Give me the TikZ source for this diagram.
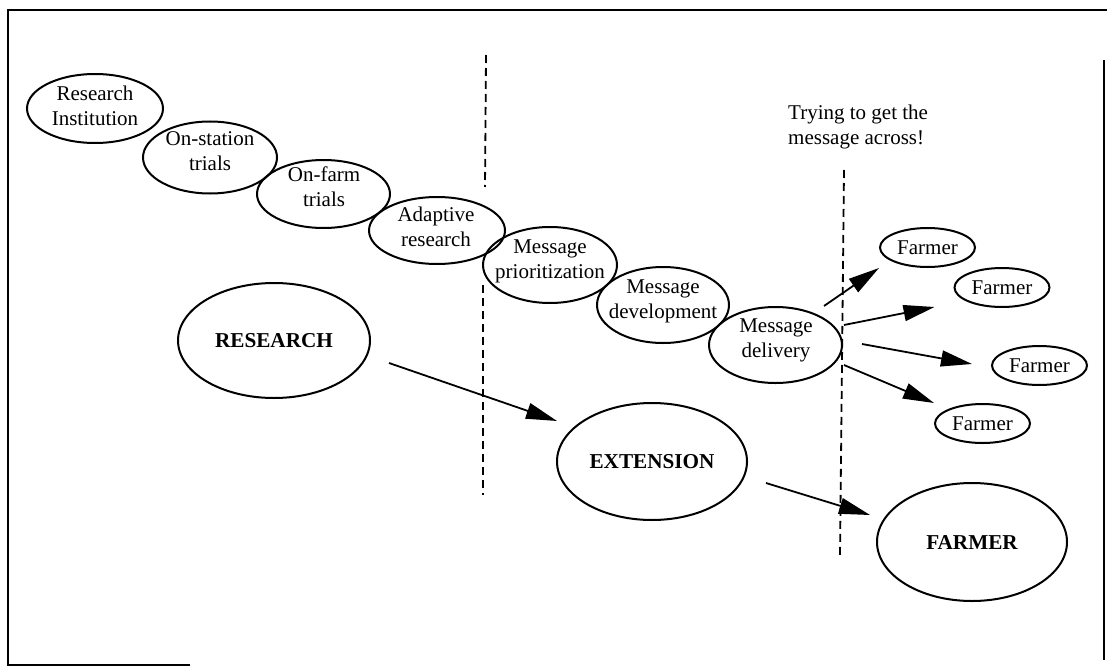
\documentclass[tikz,border=0pt]{standalone}
\usepackage{fontspec}
\setmainfont{Liberation Serif}
\usetikzlibrary{shapes.geometric,arrows.meta}
\begin{document}
\begin{tikzpicture}[x=1pt,y=-1pt,
  oval/.style={draw, ellipse, line width=2pt, inner sep=0pt},
  lbl/.style={align=center, font=\fontsize{21}{25}\selectfont, inner sep=0pt},
  small/.style={oval, minimum width=95pt, minimum height=39pt, font=\fontsize{21}{25}\selectfont},
  big/.style={oval, font=\fontsize{21.2}{25}\selectfont\bfseries},
  arr/.style={line width=1.8pt, -{Triangle[length=31pt,width=16pt]}},
  divider/.style={line width=1.8pt, dash pattern=on 8pt off 5pt},
  frame/.style={line width=2pt}
]
\useasboundingbox (0,0) rectangle (1107,666);
% frame
\draw[frame] (1107,10) -- (8,10) -- (8,665) -- (190,665);
\draw[frame] (1104,60) -- (1104,660);
% dividers
\draw[divider] (486,55) -- (485,187);
\draw[divider] (483,285) -- (483,495);
\draw[divider] (844,170) -- (840,555);
% chain of ellipses
\node[oval, minimum width=136pt, minimum height=69pt] (ri) at (95,108.5) {};
\node[lbl] (riT) at (95,105.5) {Research\\Institution};
\node[oval, minimum width=134pt, minimum height=72pt] (os) at (210,157.5) {};
\node[lbl] (osT) at (210,151) {On-station\\trials};
\node[oval, minimum width=133pt, minimum height=68pt] (of) at (323.5,194) {};
\node[lbl] (ofT) at (324,187) {On-farm\\trials};
\node[oval, minimum width=136pt, minimum height=67pt] (ar) at (437,230.5) {};
\node[lbl] (arT) at (436,227) {Adaptive\\research};
\node[oval, minimum width=134pt, minimum height=76pt] (mp) at (550,265) {};
\node[lbl] (mpT) at (550,261.5) {Message\\prioritization};
\node[oval, minimum width=132pt, minimum height=76pt] (md) at (663,305) {};
\node[lbl] (mdT) at (663,301.5) {Message\\development};
\node[oval, minimum width=133pt, minimum height=76pt] (mdel) at (775.5,345) {};
\node[lbl] (mdelT) at (776,340.5) {Message\\delivery};
% note
\node[lbl, align=left, anchor=west] (note) at (788,126.5) {Trying to get the\\message across!};
% farmers
\node[small] (f1) at (927.5,247.5) {Farmer};
\node[small] (f2) at (1002,287.5) {Farmer};
\node[small] (f3) at (1039.5,365.5) {Farmer};
\node[small] (f4) at (982.5,423.5) {Farmer};
% big ellipses
\node[big, minimum width=192pt, minimum height=115pt] (research) at (274,340.5) {RESEARCH};
\node[big, minimum width=190pt, minimum height=117pt] (extension) at (652,461.5) {EXTENSION};
\node[big, minimum width=190pt, minimum height=118pt] (farmer) at (972,542) {FARMER};
% arrows
\draw[arr] ([shift={(18,22.5)}]research.east) -- ([shift={(1,-40.5)}]extension.west);
\draw[arr] ([shift={(18,21.5)}]extension.east) -- ([shift={(-6,-27)}]farmer.west);
\draw[arr] ([shift={(-19,-39)}]mdel.east) -- ([shift={(0,20.5)}]f1.west);
\draw[arr] ([shift={(1,-20)}]mdel.east) -- ([shift={(-19,19.5)}]f2.west);
\draw[arr] ([shift={(19,-1)}]mdel.east) -- ([shift={(-19,-1.5)}]f3.west);
\draw[arr] ([shift={(1,20)}]mdel.east) -- ([shift={(0,-20.5)}]f4.west);
\end{tikzpicture}
\end{document}
